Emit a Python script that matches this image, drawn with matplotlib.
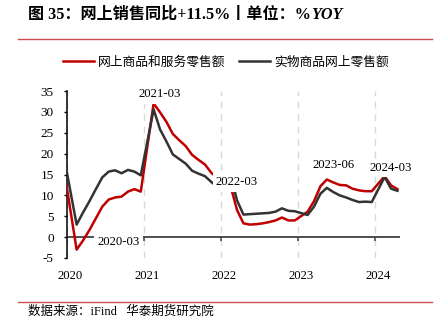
import matplotlib
matplotlib.use('Agg')
import matplotlib.pyplot as plt
import matplotlib.transforms as mtransforms

plt.rcParams['axes.unicode_minus'] = False

# ---------------- data ----------------
months = ['2019-12',
          '2020-02', '2020-03', '2020-04', '2020-05', '2020-06', '2020-07', '2020-08', '2020-09', '2020-10', '2020-11', '2020-12',
          '2021-02', '2021-03', '2021-04', '2021-05', '2021-06', '2021-07', '2021-08', '2021-09', '2021-10', '2021-11', '2021-12',
          '2022-02', '2022-03', '2022-04', '2022-05', '2022-06', '2022-07', '2022-08', '2022-09', '2022-10', '2022-11', '2022-12',
          '2023-02', '2023-03', '2023-04', '2023-05', '2023-06', '2023-07', '2023-08', '2023-09', '2023-10', '2023-11', '2023-12',
          '2024-02', '2024-03', '2024-04']

online_goods_services = [16.5,
                         -3.0, -0.8, 1.7, 4.5, 7.3, 9.0, 9.5, 9.7, 10.9, 11.5, 10.9,
                         32.0, 29.9, 27.6, 24.7, 23.2, 21.8, 19.7, 18.5, 17.4, 15.4, 14.1,
                         12.2, 6.5, 3.3, 3.0, 3.1, 3.3, 3.6, 4.0, 4.7, 4.0, 4.0,
                         6.1, 8.6, 12.2, 13.8, 13.1, 12.5, 12.4, 11.6, 11.2, 11.0, 11.0,
                         14.6, 12.4, 11.5]

physical_goods_online = [19.5,
                         3.0, 5.9, 8.6, 11.5, 14.3, 15.7, 16.0, 15.3, 16.1, 15.7, 14.8,
                         30.6, 25.8, 22.9, 19.8, 18.7, 17.6, 15.9, 15.2, 14.6, 13.2, 12.0,
                         14.8, 8.8, 5.4, 5.5, 5.6, 5.7, 5.8, 6.1, 6.9, 6.3, 6.2,
                         5.3, 7.3, 10.4, 11.8, 10.8, 10.0, 9.5, 8.9, 8.4, 8.5, 8.4,
                         14.4, 11.6, 11.1]

series_names = ['网上商品和服务零售额', '实物商品网上零售额']
year_ticks = [2020, 2021, 2022, 2023, 2024]
y_ticks = [-5, 0, 5, 10, 15, 20, 25, 30, 35]
note_labels = ['2020-03', '2021-03', '2022-03', '2023-06', '2024-03']

title_main = '图 35：网上销售同比+11.5%丨单位：%'
title_tail = 'YOY'
source_text = '数据来源：iFind   华泰期货研究院'

# ---------------- layout ----------------
note_pos = [(2020.669, -1.1), (2021.208, 34.2), (2022.208, 13.1), (2023.464, 17.3), (2024.205, 16.6)]


def month_pos(m):
    y, mo = m.split('-')
    return int(y) + (int(mo) - 0.5) / 12.0


x = [month_pos(m) for m in months]

RED = '#c00000'
DARK = '#333333'
AXC = '#404040'
SERIF = ['Liberation Serif', 'Noto Sans CJK SC']
CJK = ['Noto Sans CJK SC', 'DejaVu Sans']

fig = plt.figure(figsize=(4.41, 3.29), dpi=100)
ax = fig.add_axes([67 / 441, 1 - 258 / 329, (400 - 67) / 441, (258 - 91) / 329])

ax.plot(x, online_goods_services, color=RED, lw=1.8, zorder=3, label=series_names[0])
ax.plot(x, physical_goods_online, color=DARK, lw=1.8, zorder=3, label=series_names[1])

ax.set_xlim(2020.0, 2024.325)
ax.set_ylim(-5, 35)
ax.set_yticks(y_ticks)
ax.set_xticks(year_ticks)
ax.set_xticklabels([str(v) for v in year_ticks])

for s in ['top', 'right', 'bottom']:
    ax.spines[s].set_visible(False)
ax.spines['left'].set_color('#000000')
ax.spines['left'].set_linewidth(1.1)

ax.tick_params(axis='y', direction='out', length=2.5, width=1.0, color='#000000', pad=7,
               labelsize=9.5, labelcolor='#000000')
ax.tick_params(axis='x', length=0, pad=8.5, labelsize=9.2, labelcolor='#000000')
for lab in ax.get_yticklabels() + ax.get_xticklabels():
    lab.set_family(SERIF)
offset = mtransforms.ScaledTranslation(3.5 / 100, 0, fig.dpi_scale_trans)
for lab in ax.get_xticklabels():
    lab.set_transform(lab.get_transform() + offset)

ax.set_axisbelow(True)
ax.grid(axis='x', linestyle=(0, (5, 4)), color='#d9d9d9', lw=1.0)
ax.grid(axis='y', visible=False)

# zero line with year ticks
ax.axhline(0, color=AXC, lw=1.3, zorder=2)
ax.vlines(year_ticks[1:], -0.9, 0, color=AXC, lw=1.1, zorder=2)

for lab, (px, py) in zip(note_labels, note_pos):
    ax.text(px, py, lab, ha='center', va='center', fontsize=9.2, family=SERIF, color='#000000',
            zorder=5, clip_on=False,
            bbox=dict(boxstyle='square,pad=0.25', facecolor='white', edgecolor='none'))

# legend
fig.legend(loc='center left', bbox_to_anchor=(62.5 / 441, 1 - 62 / 329), ncol=2, frameon=False,
           prop={'family': CJK, 'size': 9.2}, handlelength=2.45, handletextpad=0.35,
           columnspacing=1.0, borderpad=0, borderaxespad=0)

# title
renderer = fig.canvas.get_renderer()
t1 = fig.text(28 / 441, 1 - 15 / 329, title_main, ha='left', va='center', fontsize=11.6,
              fontweight='bold', family=SERIF, color='#000000')
bb = t1.get_window_extent(renderer)
fig.text(bb.x1 / fig.bbox.width, 1 - 15 / 329, title_tail, ha='left', va='center', fontsize=11.6,
         fontweight='bold', fontstyle='italic', family=SERIF, color='#000000')

# separators
fig.add_artist(plt.Line2D([18 / 441, 432 / 441], [1 - 39 / 329] * 2, color='#c9504f', lw=1.0))
fig.add_artist(plt.Line2D([18 / 441, 432 / 441], [1 - 301.5 / 329] * 2, color='#c9504f', lw=1.0))

fig.text(28 / 441, 1 - 312 / 329, source_text, ha='left', va='center', fontsize=9,
         family=SERIF, color='#000000')

fig.savefig('out.png', dpi=100)
